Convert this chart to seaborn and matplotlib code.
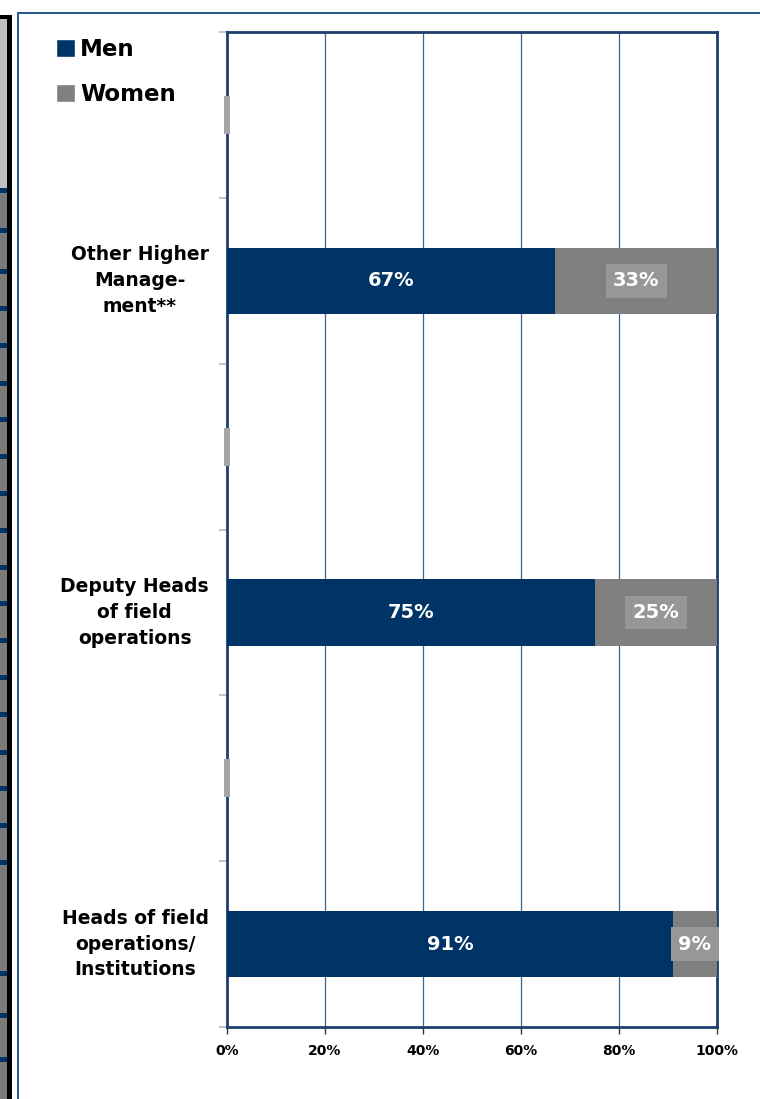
import numpy as np
import pandas as pd
import matplotlib
matplotlib.use("Agg")
import matplotlib.pyplot as plt
from matplotlib.patches import Rectangle, Patch
import seaborn as sns

# rows from top to bottom; empty rows are the gaps between the bars
row_labels = ["", "Other Higher\nManage-\nment**", "",
              "Deputy Heads\nof field\noperations", "",
              "Heads of field\noperations/\nInstitutions"]
men = [0, 67, 0, 75, 0, 91]
women = [0, 33, 0, 25, 0, 9]
x_ticks = [0, 20, 40, 60, 80, 100]
x_tick_labels = ["0%", "20%", "40%", "60%", "80%", "100%"]

NAVY = "#003366"
GREY = "#808080"
LABEL_BOX = "#979797"
FRAME = "#1c3f70"

df = pd.DataFrame({
    "row": [f"r{i}" for i in range(len(row_labels))],
    "men": men,
    "women": women,
})
df["total"] = df["men"] + df["women"]
order = list(df["row"])

sns.set_style("white")
plt.rcParams["font.family"] = ["DejaVu Sans"]
plt.rcParams["text.color"] = "black"
plt.rcParams["xtick.color"] = "black"
plt.rcParams["ytick.color"] = "black"

fig = plt.figure(figsize=(7.6, 10.99), dpi=100)
ax = fig.add_axes([227 / 760, 1 - 1027 / 1099, 490 / 760, (1027 - 32) / 1099])

sns.barplot(data=df, x="total", y="row", order=order, color=GREY, width=0.4,
            saturation=1, errorbar=None, linewidth=0, ax=ax, zorder=3)
sns.barplot(data=df, x="men", y="row", order=order, color=NAVY, width=0.4,
            saturation=1, errorbar=None, linewidth=0, ax=ax, zorder=4)

ax.set_xlim(0, 100)
ax.set_ylim(len(order) - 0.5, -0.5)
ax.set_xlabel("")
ax.set_ylabel("")

# value labels
for i, r in df.iterrows():
    if r["total"] == 0:
        # empty label box of a zero-valued row
        ax.add_patch(Rectangle((-0.7, i - 0.115), 1.4, 0.23, facecolor="#a6a6a6",
                               edgecolor="none", clip_on=False, zorder=6))
        continue
    ax.text(r["men"] / 2, i, f"{r['men']}%", ha="center", va="center",
            color="white", fontsize=14, fontweight="bold", zorder=6)
    ax.text(r["men"] + r["women"] / 2, i, f"{r['women']}%", ha="center", va="center",
            color="white", fontsize=14, fontweight="bold", zorder=6,
            bbox=dict(boxstyle="square,pad=0.38", facecolor=LABEL_BOX, edgecolor="none"))

# axes styling
ax.set_xticks(x_ticks, labels=x_tick_labels)
ax.xaxis.grid(True, color="#3d659a", linewidth=0.9, zorder=0)
ax.yaxis.grid(False)
ax.tick_params(axis="x", length=5, width=1, color="#333333", pad=7,
               labelsize=10, bottom=True)
for lbl in ax.get_xticklabels():
    lbl.set_fontweight("bold")

ax.set_yticks(range(len(row_labels)), labels=row_labels)
ax.set_yticks(np.arange(-0.5, len(row_labels)), minor=True)
ax.tick_params(axis="y", which="major", length=0, pad=13, labelsize=13.5)
ax.tick_params(axis="y", which="minor", length=6, width=1.2, color="#b0b8c8", left=True)
for lbl in ax.get_yticklabels():
    lbl.set_fontweight("bold")
    lbl.set_multialignment("center")
    lbl.set_linespacing(1.45)
    lbl.set_verticalalignment("center")

for s in ax.spines.values():
    s.set_visible(True)
    s.set_color(FRAME)
    s.set_linewidth(2)

# legend
handles = [Patch(facecolor=NAVY, label="Men"), Patch(facecolor=GREY, label="Women")]
fig.legend(handles=handles, loc="upper left", bbox_to_anchor=(47 / 760, 1 - 29 / 1099),
           frameon=False, prop=dict(size=16.5, weight="bold"), handlelength=0.8,
           handleheight=0.8, handletextpad=0.25, labelspacing=0.95, borderaxespad=0)

# slide decoration around the chart (pixel coordinates, top-left origin)
def px_rect(x, y, w, h, color):
    fig.add_artist(Rectangle((x / 100, (1099 - y - h) / 100), w / 100, h / 100,
                             transform=fig.dpi_scale_trans, facecolor=color,
                             edgecolor="none"))

px_rect(0, 19, 7, 169, "#c0c0c0")
px_rect(0, 188, 7, 911, "#7a7a7a")
px_rect(7, 15, 5, 1084, "#000000")
px_rect(0, 15, 12, 4, "#000000")
for yy in [188, 228, 269, 306, 343, 381, 417, 454, 491, 528, 565, 601, 638, 675,
           712, 750, 786, 823, 860, 971, 1013, 1057]:
    px_rect(0, yy, 7, 5, NAVY)
px_rect(17, 12, 2, 1087, "#2c5a92")
px_rect(17, 12, 743, 2, "#2c5a92")

fig.savefig("out.png", dpi=100, facecolor="white")
